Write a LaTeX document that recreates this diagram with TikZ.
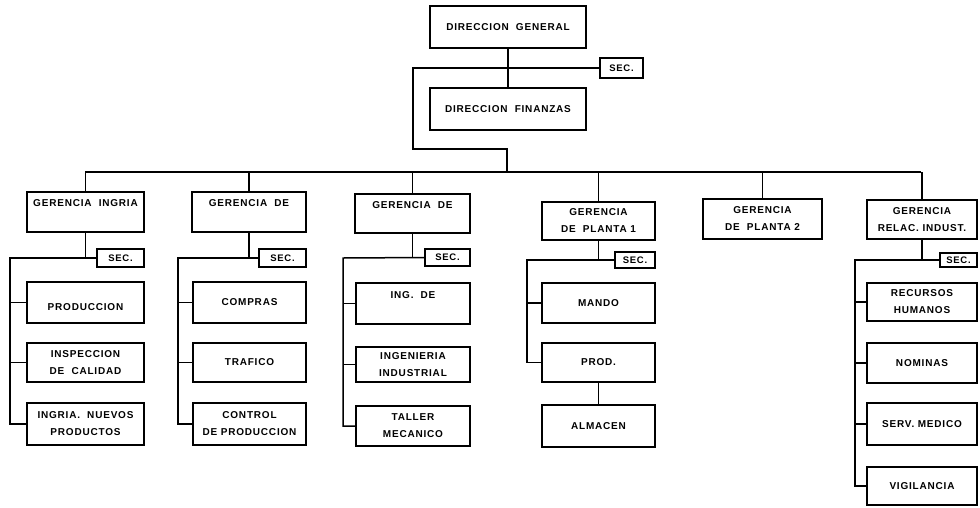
\documentclass[tikz,border=0pt]{standalone}
\usepackage{fontspec}
\setmainfont[LetterSpace=8]{Liberation Sans}
\tikzset{
  box/.style={draw, line width=1.5pt, inner sep=1pt, align=center,
    font=\bfseries\fontsize{10}{17}\selectfont},
  secbox/.style={box, font=\bfseries\fontsize{9.5}{10}\selectfont},
  conn/.style={line width=1.5pt}
}
\newcommand\obox[7][box]{%
  \node[#1, minimum width={(#4-#2)*1pt}, minimum height={(#5-#3)*1pt}]
    (#6) at ({(#2+#4)/2},{(#3+#5)/2}) {#7};}
\begin{document}
\begin{tikzpicture}[x=1pt,y=-1pt]
\useasboundingbox (0,0) rectangle (980,507);
% top
\obox{430}{6}{586}{48}{dg}{DIRECCION~~GENERAL}
\obox{430}{88}{586}{130}{df}{DIRECCION~~FINANZAS}
\obox[secbox]{600}{58}{643}{78}{secT}{SEC.}
% gerencias
\obox{27}{192}{144}{232}{g1}{GERENCIA~~INGRIA\\~}
\obox{192}{192}{306}{232}{g2}{GERENCIA~~DE\\~}
\obox{355}{194}{470}{233}{g3}{GERENCIA~~DE\\~}
\obox{542}{202}{655}{240}{g4}{GERENCIA\\DE~~PLANTA~1}
\obox{703}{199}{822}{239}{g5}{GERENCIA\\DE~~PLANTA~2}
\obox{867}{200}{977}{239}{g6}{GERENCIA\\RELAC.~INDUST.}
% column 1
\obox[secbox]{97}{249}{144}{267}{s1}{SEC.}
\obox{27}{282}{144}{323}{a1}{~\\PRODUCCION}
\obox{27}{343}{144}{382}{a2}{INSPECCION\\DE~~CALIDAD}
\obox{27}{403}{144}{445}{a3}{INGRIA.~~NUEVOS\\PRODUCTOS}
% column 2
\obox[secbox]{259}{249}{306}{267}{s2}{SEC.}
\obox{193}{282}{306}{323}{b1}{COMPRAS}
\obox{193}{343}{306}{382}{b2}{TRAFICO}
\obox{193}{403}{306}{445}{b3}{CONTROL\\DE~PRODUCCION}
% column 3
\obox[secbox]{425}{249}{470}{266}{s3}{SEC.}
\obox{356}{283}{470}{324}{c1}{ING.~~DE\\~}
\obox{356}{347}{470}{382}{c2}{INGENIERIA\\INDUSTRIAL}
\obox{356}{406}{470}{446}{c3}{TALLER\\MECANICO}
% column 4
\obox[secbox]{615}{252}{655}{268}{s4}{SEC.}
\obox{542}{283}{655}{323}{d1}{MANDO}
\obox{542}{343}{655}{382}{d2}{PROD.}
\obox{542}{405}{655}{447}{d3}{ALMACEN}
% column 6
\obox[secbox]{940}{253}{977}{267}{s6}{SEC.}
\obox{867}{283}{977}{321}{e1}{RECURSOS\\HUMANOS}
\obox{867}{343}{977}{383}{e2}{NOMINAS}
\obox{867}{403}{977}{445}{e3}{SERV.~MEDICO}
\obox{867}{467}{977}{505}{e4}{VIGILANCIA}
% top connectors
\coordinate (t1) at (413,68);
\coordinate (t2) at (413,149);
\coordinate (t3) at (507,149);
\coordinate (busL) at (85,172);
\coordinate (busR) at (921,172);
\coordinate (busM) at (507,172);
\draw[conn] (dg.south) -- (df.north);
\draw[conn] (secT.west) -- (t1) -- (t2) -- (t3) -- (busM);
\draw[conn] (busL) -- (busR);
\foreach \g in {g1,g2,g3,g4,g5,g6} {\draw[conn] (\g.north |- busL) -- (\g.north);}
% column connectors
\coordinate (L1) at (10,258);
\coordinate (L2) at (178,258);
\coordinate (L3) at (343,258);
\coordinate (L4) at (527,260);
\coordinate (L6) at (855,260);
\draw[conn] (g1.south) -- (g1.south |- s1.west);
\draw[conn] (s1.west) -- (L1) -- (L1 |- a3.west) -- (a3.west);
\draw[conn] (a1.west) -- (a1.west -| L1);
\draw[conn] (a2.west) -- (a2.west -| L1);
\draw[conn] (g2.south) -- (g2.south |- s2.west);
\draw[conn] (s2.west) -- (L2) -- (L2 |- b3.west) -- (b3.west);
\draw[conn] (b1.west) -- (b1.west -| L2);
\draw[conn] (b2.west) -- (b2.west -| L2);
\draw[conn] (g3.south) -- (g3.south |- s3.west);
\draw[conn] (s3.west) -- (L3) -- (L3 |- c3.west) -- (c3.west);
\draw[conn] (c1.west) -- (c1.west -| L3);
\draw[conn] (c2.west) -- (c2.west -| L3);
\draw[conn] (g4.south) -- (g4.south |- s4.west);
\draw[conn] (s4.west) -- (L4) -- (L4 |- d2.west) -- (d2.west);
\draw[conn] (d1.west) -- (d1.west -| L4);
\draw[conn] (d2.south) -- (d3.north);
\draw[conn] (g6.south) -- (g6.south |- s6.west);
\draw[conn] (s6.west) -- (L6) -- (L6 |- e4.west) -- (e4.west);
\draw[conn] (e1.west) -- (e1.west -| L6);
\draw[conn] (e2.west) -- (e2.west -| L6);
\draw[conn] (e3.west) -- (e3.west -| L6);
\end{tikzpicture}
\end{document}
